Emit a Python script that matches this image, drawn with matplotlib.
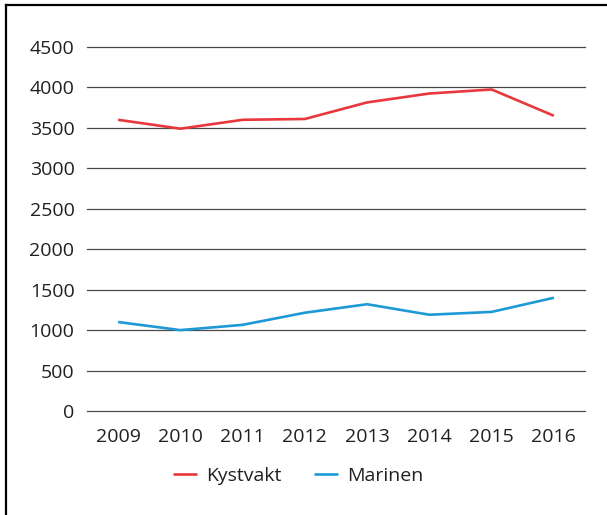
import matplotlib.pyplot as plt
from matplotlib.lines import Line2D

plt.rcParams['font.family'] = ['Open Sans', 'DejaVu Sans']

years = ['2009', '2010', '2011', '2012', '2013', '2014', '2015', '2016']
kystvakt = [3600, 3490, 3600, 3610, 3815, 3925, 3975, 3650]
marinen = [1100, 1000, 1065, 1215, 1320, 1190, 1225, 1400]
yticks = [0, 500, 1000, 1500, 2000, 2500, 3000, 3500, 4000, 4500]

txt = '#231f20'

fig = plt.figure(figsize=(6.07, 5.15), dpi=100)
ax = fig.add_axes([87/607, 104/515, 498/607, 364/515])

x = range(len(years))
ax.plot(x, kystvakt, color='#e8383d', lw=1.9, label='Kystvakt', solid_capstyle='butt')
ax.plot(x, marinen, color='#1d9ad6', lw=1.9, label='Marinen', solid_capstyle='butt')

ax.set_xlim(-0.5, len(years) - 0.5)
ax.set_ylim(0, 4500)
ax.set_yticks(yticks)
ax.set_xticks(list(x))
ax.set_xticklabels(years)
ax.grid(axis='y', color='#4a4a4a', lw=0.9)
for gl in ax.get_ygridlines():
    gl.set_clip_on(False)
ax.set_axisbelow(True)
for s in ax.spines.values():
    s.set_visible(False)
ax.tick_params(axis='both', length=0, labelsize=14, labelcolor=txt)
ax.tick_params(axis='y', pad=9)
ax.tick_params(axis='x', pad=12)

fig.legend(loc='center', bbox_to_anchor=(298/607, 1 - 476/515), ncol=2, frameon=False,
           fontsize=14, handlelength=1.25, handletextpad=0.45, columnspacing=1.65,
           labelcolor=txt)

# frame lines (left and top)
fig.add_artist(Line2D([6/607, 6/607], [0, 1 - 5/515], color='black', lw=1.6,
                      transform=fig.transFigure))
fig.add_artist(Line2D([6/607, 1], [1 - 5/515, 1 - 5/515], color='black', lw=1.6,
                      transform=fig.transFigure))

fig.savefig('out.png', dpi=100)
